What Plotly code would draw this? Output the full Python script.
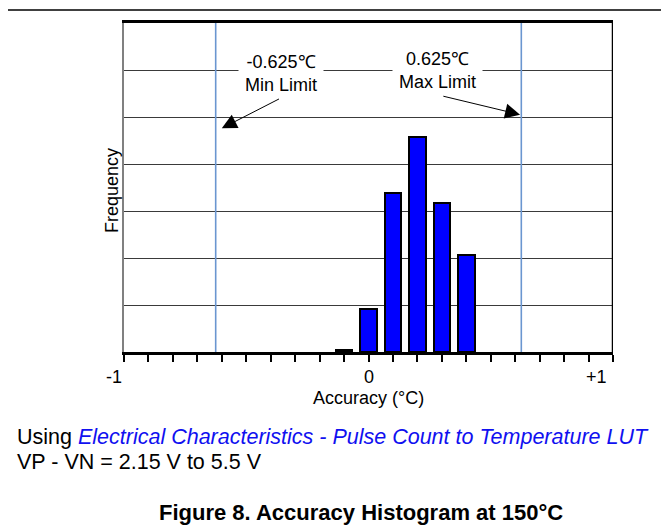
import plotly.graph_objects as go

# ---- data ----
bin_centers = [-0.1, 0.0, 0.1, 0.2, 0.3, 0.4]
frequency = [0.04, 0.91, 3.38, 4.57, 3.18, 2.07]
limits = [-0.625, 0.625]
limit_labels = ["-0.625℃<br>Min Limit", "0.625℃<br>Max Limit"]
tick_values = [-1, 0, 1]
tick_labels = ["-1", "0", "+1"]

FONT = "Liberation Sans, Arial, sans-serif"

# page has an 8px body margin; work in page pixels and convert
OFF = 8
W, H = 669 - OFF, 529 - OFF
PL, PR, PT, PB = 124, 613, 21, 352          # plot area in page pixels
L, T = PL - OFF, PT - OFF
R, B = W - (PR - OFF), H - (PB - OFF)
PW, PH = PR - PL, PB - PT


def px_x(p):
    return (p - PL) / PW


def px_y(p):
    return (PB - p) / PH


fig = go.Figure()
fig.add_trace(go.Bar(
    x=bin_centers, y=frequency, width=0.068,
    marker=dict(color="#0000FF", line=dict(color="black", width=2)),
    showlegend=False, hoverinfo="skip",
))

shapes = []
for lv in limits:
    shapes.append(dict(type="line", xref="x", yref="y", x0=lv, x1=lv, y0=-0.07, y1=7,
                       line=dict(color="#6a96d0", width=1.6), layer="above"))
shapes.append(dict(type="line", xref="x", yref="y", x0=1, x1=1, y0=0, y1=7,
                   line=dict(color="black", width=2.5), layer="above"))
shapes.append(dict(type="line", xref="paper", yref="paper", x0=px_x(0), x1=px_x(666),
                   y0=px_y(8), y1=px_y(8), line=dict(color="black", width=1.5)))
shapes.append(dict(type="line", xref="paper", yref="paper", x0=px_x(665.5), x1=px_x(665.5),
                   y0=px_y(8), y1=px_y(535), line=dict(color="black", width=1.5)))

annotations = []
label_pos = [(-0.357, 5.92), (0.281, 6.0)]
for txt, (lx, ly) in zip(limit_labels, label_pos):
    annotations.append(dict(x=lx, y=ly, xref="x", yref="y", text=txt, showarrow=False,
                            bgcolor="white", borderpad=6,
                            font=dict(family=FONT, size=18, color="black")))
arrows = [((-0.36, 5.40), (-0.60, 4.76)), ((0.30, 5.45), (0.62, 5.05))]
for (tx, ty), (hx, hy) in arrows:
    annotations.append(dict(x=hx, y=hy, ax=tx, ay=ty, xref="x", yref="y", axref="x", ayref="y",
                            text="", showarrow=True, arrowhead=2, arrowsize=3,
                            arrowwidth=1, arrowcolor="black"))
shifts = [-10, 0, -17]
for tv, tl, sh in zip(tick_values, tick_labels, shifts):
    annotations.append(dict(x=tv, y=px_y(377), xref="x", yref="paper", text=tl, showarrow=False,
                            xshift=sh, yanchor="middle",
                            font=dict(family=FONT, size=18, color="black")))
annotations.append(dict(x=0, y=px_y(398), xref="x", yref="paper", text="Accuracy (°C)",
                        showarrow=False, yanchor="middle",
                        font=dict(family=FONT, size=18, color="black")))
annotations.append(dict(x=px_x(112), y=px_y(190), xref="paper", yref="paper", text="Frequency",
                        showarrow=False, textangle=-90, xanchor="center", yanchor="middle",
                        font=dict(family=FONT, size=18, color="black")))
annotations.append(dict(x=px_x(15), y=px_y(438), xref="paper", yref="paper",
                        text="Using <i><span style='color:#1010f0'>Electrical Characteristics - Pulse Count to Temperature LUT</span></i>",
                        showarrow=False, xanchor="left", yanchor="middle",
                        font=dict(family=FONT, size=21.5, color="black")))
annotations.append(dict(x=px_x(15), y=px_y(463), xref="paper", yref="paper",
                        text="VP - VN = 2.15 V to 5.5 V",
                        showarrow=False, xanchor="left", yanchor="middle",
                        font=dict(family=FONT, size=21.5, color="black")))
annotations.append(dict(x=px_x(361), y=px_y(513), xref="paper", yref="paper",
                        text="<b>Figure 8. Accuracy Histogram at 150°C</b>",
                        showarrow=False, xanchor="center", yanchor="middle",
                        font=dict(family=FONT, size=22, color="black")))

fig.update_layout(
    width=W, height=H,
    margin=dict(l=L, r=R, t=T, b=B),
    paper_bgcolor="white", plot_bgcolor="white",
    bargap=0,
    shapes=shapes,
    annotations=annotations,
    xaxis=dict(range=[-1, 1], tick0=-1, dtick=0.1, ticks="outside", ticklen=7, tickwidth=2,
               tickcolor="black", showticklabels=False, showgrid=False, zeroline=False,
               showline=True, linecolor="black", linewidth=2.5, mirror=True, fixedrange=True),
    yaxis=dict(range=[0, 7], dtick=1, showticklabels=False, ticks="", showgrid=True,
               gridcolor="#3a3a3a", gridwidth=1, zeroline=False,
               showline=True, linecolor="#808080", linewidth=2, fixedrange=True),
)

fig.write_html("out.html")
